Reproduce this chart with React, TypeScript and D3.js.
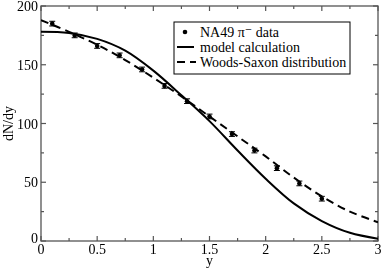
import { useRef, useEffect } from "react";
import * as d3 from "d3";

// NA49 pi- data points
const dataY = [0.1, 0.3, 0.5, 0.7, 0.9, 1.1, 1.3, 1.5, 1.7, 1.9, 2.1, 2.3, 2.5];
const dataN = [185, 175, 166, 158, 146, 132, 119, 106, 91, 77, 62, 49, 36];
const dataErr = [2, 2, 2, 2, 2, 2, 2, 2, 2, 2, 2, 2, 2];

// curves
const curveY = [0, 0.25, 0.5, 0.75, 1.0, 1.25, 1.5, 1.75, 2.0, 2.25, 2.5, 2.75, 3.0];
const modelN = [178, 177, 172, 162, 145, 124, 102, 77, 53, 32, 17, 7, 2];
const woodsN = [188, 178, 167, 154, 139, 123, 106, 89, 72, 54, 38, 25, 16];

const xTicks = [0, 0.5, 1, 1.5, 2, 2.5, 3];
const yTicks = [0, 50, 100, 150, 200];

const legendLabels = ["NA49 \u03c0\u207b data", "model calculation", "Woods-Saxon distribution"];

export default function App() {
  const chartRef = useRef<HTMLDivElement>(null);

  useEffect(() => {
    if (!chartRef.current) return;
    d3.select(chartRef.current).selectAll("*").remove();

    const width = 382;
    const height = 268;
    const margin = { top: 6, right: 4, bottom: 27, left: 41 };
    const font = "Liberation Serif, DejaVu Serif, Times, serif";
    const axisColor = "#555";

    const svg = d3
      .select(chartRef.current)
      .append("svg")
      .attr("width", width)
      .attr("height", height)
      .style("display", "block");

    const x = d3.scaleLinear().domain([0, 3]).range([margin.left, width - margin.right]);
    const y = d3.scaleLinear().domain([0, 200]).range([height - margin.bottom, margin.top]);

    const x0 = x(0), x1 = x(3), y0 = y(0), y1 = y(200);

    // frame
    svg
      .append("rect")
      .attr("x", x0)
      .attr("y", y1)
      .attr("width", x1 - x0)
      .attr("height", y0 - y1)
      .attr("fill", "none")
      .attr("stroke", axisColor)
      .attr("stroke-width", 1.3);

    // ticks, pointing inward on all four sides
    const xMinor = d3.range(0, 3.001, 0.25);
    const yMinor = d3.range(0, 200.001, 25);
    const tickG = svg.append("g").attr("stroke", axisColor).attr("stroke-width", 1.2);
    xMinor.forEach((v) => {
      const len = Math.abs(v * 2 - Math.round(v * 2)) < 1e-6 ? 5 : 3;
      tickG.append("line").attr("x1", x(v)).attr("x2", x(v)).attr("y1", y0).attr("y2", y0 - len);
      tickG.append("line").attr("x1", x(v)).attr("x2", x(v)).attr("y1", y1).attr("y2", y1 + len);
    });
    yMinor.forEach((v) => {
      const len = v % 50 === 0 ? 5 : 3;
      tickG.append("line").attr("x1", x0).attr("x2", x0 + len).attr("y1", y(v)).attr("y2", y(v));
      tickG.append("line").attr("x1", x1).attr("x2", x1 - len).attr("y1", y(v)).attr("y2", y(v));
    });

    const text = (sel: any) => sel.attr("font-family", font).attr("font-size", "14px");

    // tick labels
    svg
      .selectAll(".xt")
      .data(xTicks)
      .enter()
      .append("text")
      .call(text)
      .attr("x", (d: number) => x(d))
      .attr("y", y0 + 13)
      .attr("text-anchor", "middle")
      .text((d: number) => String(d));

    svg
      .selectAll(".yt")
      .data(yTicks)
      .enter()
      .append("text")
      .call(text)
      .attr("x", x0 - 3)
      .attr("y", (d: number) => y(d) + (d === 0 ? 2 : 5))
      .attr("text-anchor", "end")
      .text((d: number) => String(d));

    // axis titles
    svg
      .append("text")
      .call(text)
      .attr("x", (x0 + x1) / 2)
      .attr("y", height - 3)
      .attr("text-anchor", "middle")
      .text("y");

    svg
      .append("text")
      .call(text)
      .attr("transform", `translate(13,${(y0 + y1) / 2}) rotate(-90)`)
      .attr("text-anchor", "middle")
      .text("dN/dy");

    // curves
    const line = d3
      .line<number>()
      .x((_, i) => x(curveY[i]))
      .y((d) => y(d))
      .curve(d3.curveCatmullRom.alpha(0.5));

    const clip = svg.append("clipPath").attr("id", "plotclip");
    clip.append("rect").attr("x", x0).attr("y", y1).attr("width", x1 - x0).attr("height", y0 - y1);

    svg
      .append("path")
      .attr("d", line(modelN))
      .attr("fill", "none")
      .attr("stroke", "#000")
      .attr("stroke-width", 2)
      .attr("clip-path", "url(#plotclip)");

    svg
      .append("path")
      .attr("d", line(woodsN))
      .attr("fill", "none")
      .attr("stroke", "#000")
      .attr("stroke-width", 2)
      .attr("stroke-dasharray", "8,5")
      .attr("clip-path", "url(#plotclip)");

    // data points with error bars
    const pts = svg.append("g");
    dataY.forEach((v, i) => {
      const cx = x(v);
      const top = y(dataN[i] + dataErr[i]);
      const bot = y(dataN[i] - dataErr[i]);
      pts.append("line").attr("x1", cx).attr("x2", cx).attr("y1", top).attr("y2", bot).attr("stroke", "#000");
      pts.append("line").attr("x1", cx - 3).attr("x2", cx + 3).attr("y1", top).attr("y2", top).attr("stroke", "#000");
      pts.append("line").attr("x1", cx - 3).attr("x2", cx + 3).attr("y1", bot).attr("y2", bot).attr("stroke", "#000");
      pts.append("circle").attr("cx", cx).attr("cy", y(dataN[i])).attr("r", 2.3).attr("fill", "#000");
    });

    // legend
    const legend = svg.append("g").attr("transform", "translate(174,22)");
    legend
      .append("rect")
      .attr("width", 176)
      .attr("height", 52)
      .attr("fill", "#fff")
      .attr("stroke", "#000")
      .attr("stroke-width", 1);

    const rowY = [10, 25, 40];
    legend.append("circle").attr("cx", 11).attr("cy", rowY[0]).attr("r", 2.3).attr("fill", "#000");
    legend.append("line").attr("x1", 3).attr("x2", 20).attr("y1", rowY[1]).attr("y2", rowY[1])
      .attr("stroke", "#000").attr("stroke-width", 2);
    legend.append("line").attr("x1", 3).attr("x2", 22).attr("y1", rowY[2]).attr("y2", rowY[2])
      .attr("stroke", "#000").attr("stroke-width", 2).attr("stroke-dasharray", "8,5");

    legend
      .selectAll(".lt")
      .data(legendLabels)
      .enter()
      .append("text")
      .call(text)
      .attr("x", 26)
      .attr("y", (_: string, i: number) => rowY[i] + 5)
      .text((d: string) => d);
  }, []);

  return (
    <div style={{ position: "fixed", left: 0, top: 0 }}>
      <div ref={chartRef}></div>
    </div>
  );
}
